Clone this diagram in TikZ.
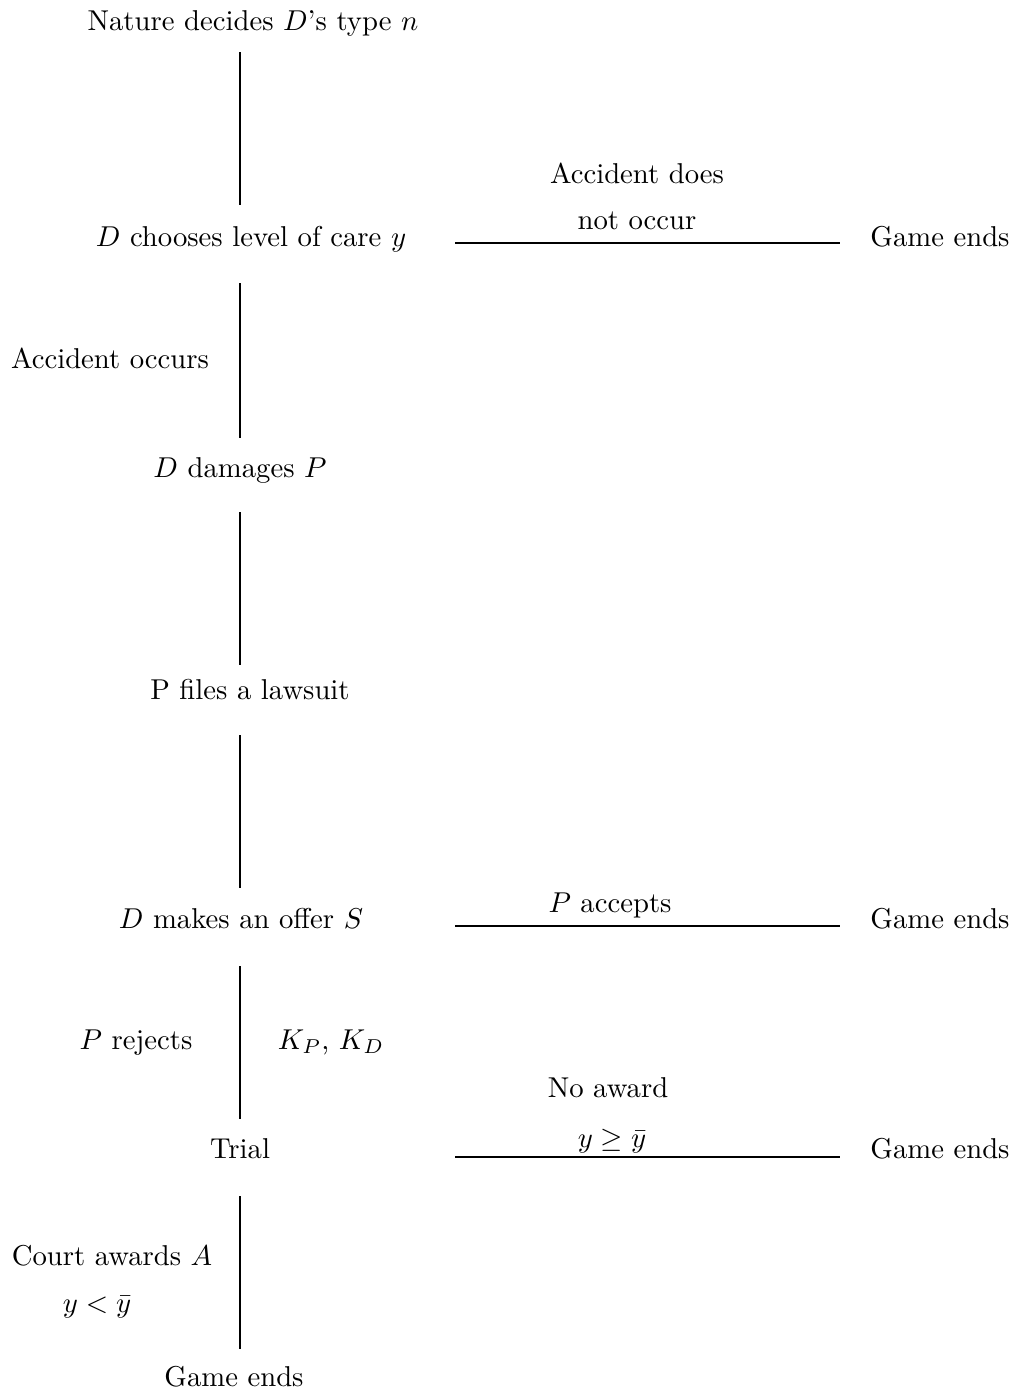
\documentclass[tikz,border=0pt]{standalone}
\begin{document}
\begin{tikzpicture}[x=0.3484pt,y=-0.3484pt,
  txt/.style={anchor=base,inner sep=0pt,font=\normalsize},
  conn/.style={line width=0.7pt}]
\useasboundingbox (0,0) rectangle (1016,1395);
% nodes
\node[txt] (nature) at (253,30) {Nature decides $D$'s type $n$};
\node[txt] (care) at (251,246) {$D$ chooses level of care $y$};
\node[txt] (nocca) at (637,183) {Accident does};
\node[txt] (noccb) at (637,229) {not occur};
\node[txt] (endA) at (940,246) {Game ends};
\node[txt] (occ) at (110,368) {Accident occurs};
\node[txt] (dam) at (240,477) {$D$ damages $P$};
\node[txt] (suit) at (250,699) {P files a lawsuit};
\node[txt] (offer) at (241,928) {$D$ makes an offer $S$};
\node[txt] (acc) at (610,912) {$P$ accepts};
\node[txt] (endB) at (940,928) {Game ends};
\node[txt] (rej) at (136,1049) {$P$ rejects};
\node[txt] (cost) at (331,1049) {$K_P$, $K_D$};
\node[txt] (trial) at (240,1158) {Trial};
\node[txt] (noaw) at (608,1097) {No award};
\node[txt] (conda) at (612,1147) {$y \geq \bar{y}$};
\node[txt] (endC) at (940,1158) {Game ends};
\node[txt] (court) at (112,1265) {Court awards $A$};
\node[txt] (condb) at (97,1312) {$y<\bar{y}$};
\node[txt] (endD) at (234,1386) {Game ends};
% connector end points
\coordinate (vAa) at (240,52);   \coordinate (vAb) at (240,205);
\coordinate (vBa) at (240,283);  \coordinate (vBb) at (240,438);
\coordinate (vCa) at (240,512);  \coordinate (vCb) at (240,665);
\coordinate (vDa) at (240,735);  \coordinate (vDb) at (240,888);
\coordinate (vEa) at (240,966);  \coordinate (vEb) at (240,1119);
\coordinate (vFa) at (240,1196); \coordinate (vFb) at (240,1349);
\coordinate (hAa) at (455,243);  \coordinate (hAb) at (840,243);
\coordinate (hBa) at (455,926);  \coordinate (hBb) at (840,926);
\coordinate (hCa) at (455,1157); \coordinate (hCb) at (840,1157);
% connectors
\draw[conn] (vAa) -- (vAb);
\draw[conn] (vBa) -- (vBb);
\draw[conn] (vCa) -- (vCb);
\draw[conn] (vDa) -- (vDb);
\draw[conn] (vEa) -- (vEb);
\draw[conn] (vFa) -- (vFb);
\draw[conn] (hAa) -- (hAb);
\draw[conn] (hBa) -- (hBb);
\draw[conn] (hCa) -- (hCb);
\end{tikzpicture}
\end{document}
